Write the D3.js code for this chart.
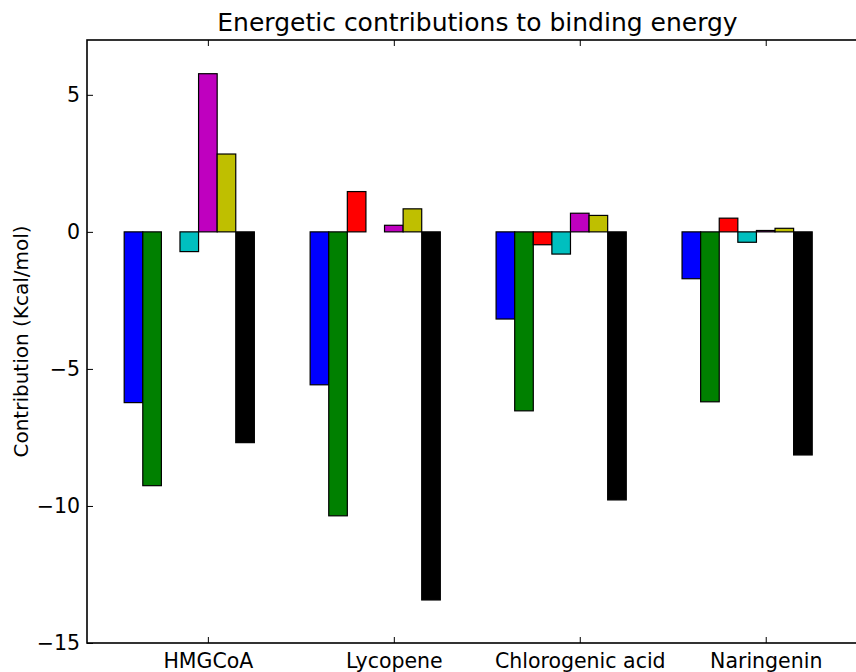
<!DOCTYPE html>
<html>
<head>
<meta charset="utf-8">
<script src="https://cdn.jsdelivr.net/npm/d3@7"></script>
<style>
  html, body { margin: 0; padding: 0; background: #fff; }
  svg { display: block; }
  text { font-family: "DejaVu Sans", sans-serif; fill: #000; }
</style>
</head>
<body>
<svg id="chart" width="856" height="672"></svg>
<script>
// Ligands (groups along the x axis)
const ligands = ["HMGCoA", "Lycopene", "Chlorogenic acid", "Naringenin"];

// Energy terms, one bar per term within each ligand group
const terms = ["vdW", "Electrostatic", "Polar solvation", "Nonpolar solvation", "Term 5", "Term 6", "Total"];
const termColors = ["#0000ff", "#008000", "#ff0000", "#00bfbf", "#bf00bf", "#bfbf00", "#000000"];

// Contribution values (kcal/mol), indexed [term][ligand]
const vdW            = [-6.23, -5.58, -3.18, -1.71];
const electrostatic  = [-9.26, -10.36, -6.53, -6.20];
const polarSolv      = [0.00, 1.47, -0.47, 0.50];
const nonpolarSolv   = [-0.72, 0.00, -0.81, -0.38];
const term5          = [5.77, 0.24, 0.68, 0.05];
const term6          = [2.84, 0.84, 0.60, 0.13];
const total          = [-7.69, -13.43, -9.78, -8.14];
const seriesValues = [vdW, electrostatic, polarSolv, nonpolarSolv, term5, term6, total];

const yTicks = [-15, -10, -5, 0, 5];

const svg = d3.select("#chart");
const plot = { left: 87, right: 868, top: 40, bottom: 643 };
const barWidth = 0.1;
const tickFont = "20.5px";

const x = d3.scaleLinear().domain([-0.2, 4.0]).range([plot.left, plot.right]);
const y = d3.scaleLinear().domain([-15, 7]).range([plot.bottom, plot.top]);

// Bars
const bars = [];
seriesValues.forEach((vals, i) => {
  vals.forEach((v, g) => bars.push({ g, i, v }));
});
svg.append("g").selectAll("rect").data(bars).join("rect")
  .attr("x", d => x(d.g + d.i * barWidth))
  .attr("width", d => x(barWidth) - x(0))
  .attr("y", d => y(Math.max(0, d.v)))
  .attr("height", d => Math.abs(y(d.v) - y(0)))
  .attr("fill", d => termColors[d.i])
  .attr("stroke", "#000")
  .attr("stroke-width", 1.2);

// Axes frame
svg.append("rect")
  .attr("x", plot.left).attr("y", plot.top)
  .attr("width", plot.right - plot.left).attr("height", plot.bottom - plot.top)
  .attr("fill", "none").attr("stroke", "#000").attr("stroke-width", 1.6);

const fmt = v => (v < 0 ? "\u2212" + Math.abs(v) : String(v));

// Y axis (left, ticks inward) and mirrored ticks on the right
const yAxis = d3.axisLeft(y).tickValues(yTicks).tickSizeInner(-6).tickSizeOuter(0).tickPadding(7).tickFormat(fmt);
const gy = svg.append("g").attr("transform", `translate(${plot.left},0)`).call(yAxis);
gy.select(".domain").remove();
gy.selectAll("line").attr("stroke", "#000").attr("stroke-width", 1);
gy.selectAll("text").style("font-size", tickFont).style("font-family", "DejaVu Sans, sans-serif");

const gyr = svg.append("g").attr("transform", `translate(${plot.right},0)`)
  .call(d3.axisRight(y).tickValues(yTicks).tickSizeInner(-6).tickSizeOuter(0).tickFormat(""));
gyr.select(".domain").remove();
gyr.selectAll("line").attr("stroke", "#000");

// X axis (bottom, ticks inward) and mirrored ticks on top
const tickPos = ligands.map((_, g) => g + 0.45);
const xAxis = d3.axisBottom(x).tickValues(tickPos).tickSizeInner(-6).tickSizeOuter(0).tickPadding(10)
  .tickFormat((d, k) => ligands[k]);
const gx = svg.append("g").attr("transform", `translate(0,${plot.bottom})`).call(xAxis);
gx.select(".domain").remove();
gx.selectAll("line").attr("stroke", "#000");
gx.selectAll("text").style("font-size", tickFont).style("font-family", "DejaVu Sans, sans-serif");

const gxt = svg.append("g").attr("transform", `translate(0,${plot.top})`)
  .call(d3.axisTop(x).tickValues(tickPos).tickSizeInner(-6).tickSizeOuter(0).tickFormat(""));
gxt.select(".domain").remove();
gxt.selectAll("line").attr("stroke", "#000");

// Title and axis label
svg.append("text")
  .attr("x", (plot.left + plot.right) / 2).attr("y", 31)
  .attr("text-anchor", "middle")
  .style("font-size", "25px")
  .text("Energetic contributions to binding energy");

svg.append("text")
  .attr("transform", `translate(28,${(plot.top + plot.bottom) / 2}) rotate(-90)`)
  .attr("text-anchor", "middle")
  .style("font-size", "20px")
  .text("Contribution (Kcal/mol)");
</script>
</body>
</html>
